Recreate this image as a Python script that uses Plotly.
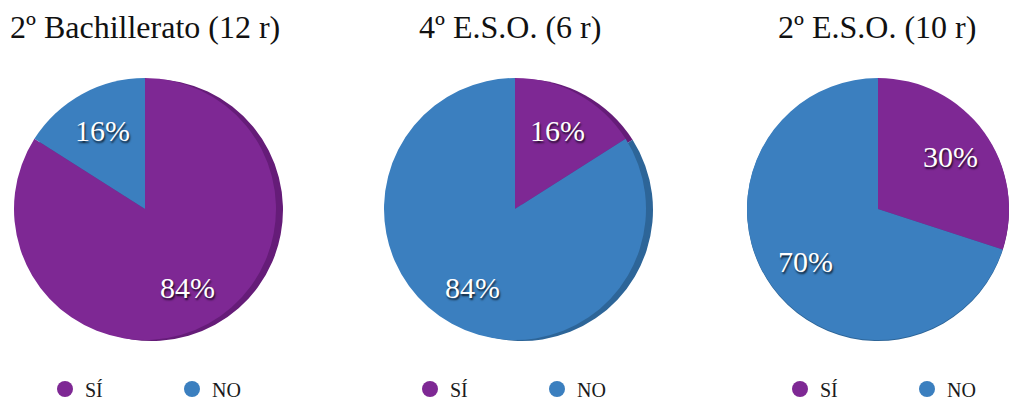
import math
import plotly.graph_objects as go

# Survey answers per course group (percent)
groups = ["2º Bachillerato (12 r)", "4º E.S.O. (6 r)", "2º E.S.O. (10 r)"]
answers = ["SÍ", "NO"]
si_values = [84, 16, 30]
no_values = [16, 84, 70]

face_colors = ["#7E2894", "#3B7FBF"]
rim_colors = ["#651C78", "#2D6598"]

W, H = 1009, 403
SERIF = "Liberation Serif"

# pixel geometry of each pie (center x, center y, radius)
centers_x = [145, 515, 878]
center_y = 209
radius = 131
rim_shift = 7
label_r = 0.68
title_x = [145, 510, 877]
legend_x = [45, 410, 780]


def dom(cx, cy, r):
    return dict(x=[max(0, (cx - r) / W), min(1, (cx + r) / W)],
                y=[(H - (cy + r)) / H, (H - (cy - r)) / H])


fig = go.Figure()

for i, title in enumerate(groups):
    vals = [si_values[i], no_values[i]]
    cx = centers_x[i]
    # darker copy slightly to the right: the pie's edge
    rcx = min(cx + rim_shift, W - radius)
    fig.add_trace(go.Pie(
        labels=answers, values=vals, sort=False, direction="clockwise",
        rotation=0, domain=dom(rcx, center_y + 1, radius),
        marker=dict(colors=rim_colors, line=dict(width=0)),
        textinfo="none", hoverinfo="skip", showlegend=False,
    ))
    fig.add_trace(go.Pie(
        labels=answers, values=vals, sort=False, direction="clockwise",
        rotation=0, domain=dom(cx, center_y, radius),
        marker=dict(colors=face_colors, line=dict(width=0)),
        textinfo="none", showlegend=False,
    ))

    # percentage labels at the middle angle of each slice
    total = sum(vals)
    start = 0.0
    for v in vals:
        mid = (start + v / 2) / total * 2 * math.pi
        start += v
        lx = cx + label_r * radius * math.sin(mid)
        ly = center_y - label_r * radius * math.cos(mid)
        fig.add_annotation(
            text=f"{v}%", x=lx / W, y=(H - ly) / H, xref="paper", yref="paper",
            showarrow=False, xanchor="center", yanchor="middle",
            font=dict(family=SERIF, size=30, color="white",
                      shadow="1px 2px 2px rgba(0,0,0,0.75)"),
        )

    legend_name = "legend" if i == 0 else f"legend{i + 1}"
    for j, ans in enumerate(answers):
        fig.add_trace(go.Scatter(
            x=[None], y=[None], mode="markers", name=ans,
            marker=dict(symbol="circle", size=18, color=face_colors[j]),
            legend=legend_name, showlegend=True,
        ))
    fig.add_annotation(
        text=title, x=title_x[i] / W, y=(H - 27) / H, xref="paper", yref="paper",
        showarrow=False, xanchor="center", yanchor="middle",
        font=dict(family=SERIF, size=32, color="#111111"),
    )

legend_common = dict(
    orientation="h", yanchor="middle", y=(H - 389) / H, xanchor="left",
    font=dict(family=SERIF, size=20, color="#1a1a1a"),
    bgcolor="rgba(0,0,0,0)", entrywidth=82, entrywidthmode="pixels",
    traceorder="normal",
)

fig.update_layout(
    width=W, height=H,
    margin=dict(l=0, r=0, t=0, b=0, autoexpand=False),
    paper_bgcolor="white", plot_bgcolor="white",
    xaxis=dict(visible=False), yaxis=dict(visible=False),
    legend=dict(x=legend_x[0] / W, **legend_common),
    legend2=dict(x=legend_x[1] / W, **legend_common),
    legend3=dict(x=legend_x[2] / W, **legend_common),
)

fig.write_html("out.html")
